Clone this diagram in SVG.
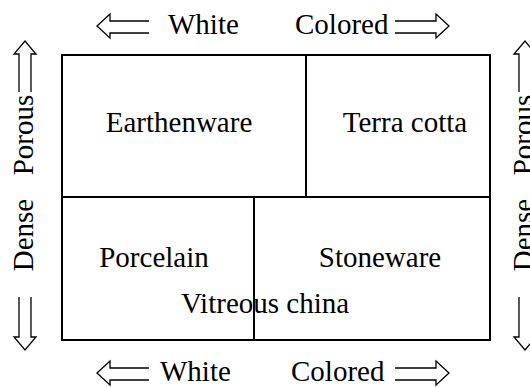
<svg xmlns="http://www.w3.org/2000/svg" width="530" height="387" viewBox="0 0 530 387">
<style>
.t{font-family:"Liberation Serif","Times New Roman",serif;font-size:29px;fill:#000}
.m{text-anchor:middle}
.box{fill:none;stroke:#000;stroke-width:2}
.arr{fill:none;stroke:#000;stroke-width:1.3;stroke-linejoin:miter}
</style>
<rect width="530" height="387" fill="#fff"/>
<g id="frame">
<rect class="box" x="62" y="55" width="428" height="285"/>
<line class="box" x1="62" y1="197" x2="490" y2="197"/>
<line class="box" x1="306" y1="55" x2="306" y2="197"/>
<line class="box" x1="254" y1="197" x2="254" y2="340"/>
</g>
<g id="earthenware"><text class="t m" x="179" y="132">Earthenware</text></g>
<g id="terracotta"><text class="t m" x="405" y="132">Terra cotta</text></g>
<g id="porcelain"><text class="t m" x="154" y="267">Porcelain</text></g>
<g id="stoneware"><text class="t m" x="380" y="267">Stoneware</text></g>
<g id="vitreous"><text class="t m" x="265" y="313">Vitreous china</text></g>
<g id="labels">
<text class="t" x="168" y="34">White</text>
<text class="t" x="295" y="34">Colored</text>
<text class="t" x="160" y="381">White</text>
<text class="t" x="291" y="381">Colored</text>
<text class="t m" transform="translate(33,135) rotate(-90)">Porous</text>
<text class="t m" transform="translate(33,235) rotate(-90)">Dense</text>
<text class="t m" transform="translate(533,135) rotate(-90)">Porous</text>
<text class="t m" transform="translate(533,235) rotate(-90)">Dense</text>
</g>
<g id="connectors">
<path class="arr" d="M149,21 H110 V14 L97,26 L110,38 V33 H149"/>
<path class="arr" d="M395,21 H436 V14 L449,26 L436,38 V33 H395"/>
<path class="arr" d="M149,368 H110 V361 L97,373 L110,385 V380 H149"/>
<path class="arr" d="M395,368 H436 V361 L449,373 L436,385 V380 H395"/>
<path class="arr" d="M19,92 V54 H14 L25,41 L36,54 H31 V92"/>
<path class="arr" d="M19,297 V337 H14 L25,350 L36,337 H31 V297"/>
<path class="arr" d="M519,92 V54 H514 L525,41 L536,54 H531 V92"/>
<path class="arr" d="M519,297 V337 H514 L525,350 L536,337 H531 V297"/>
</g>
</svg>
